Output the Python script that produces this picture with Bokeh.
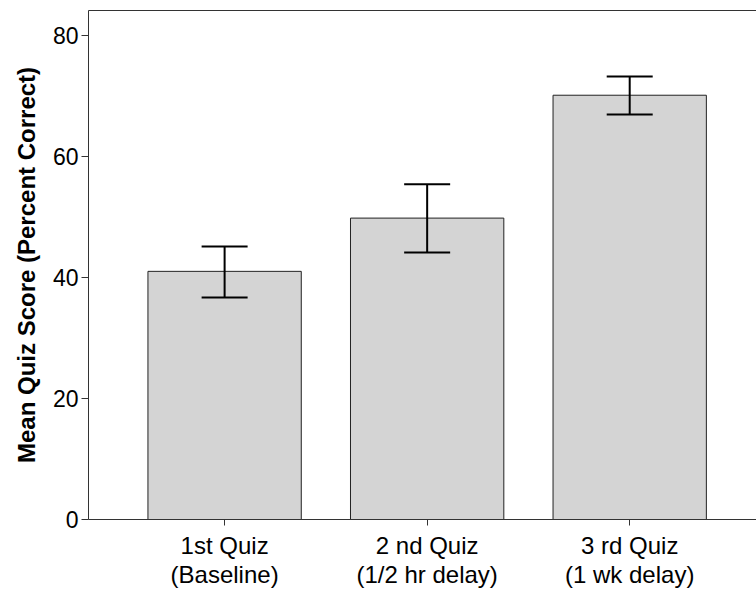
from bokeh.plotting import figure
from bokeh.models import ColumnDataSource, Whisker, TeeHead, Range1d, FixedTicker, LinearAxis
from bokeh.embed import file_html
from bokeh.resources import INLINE

categories = ["1st Quiz\n(Baseline)", "2 nd Quiz\n(1/2 hr delay)", "3 rd Quiz\n(1 wk delay)"]
positions = [1, 2, 3]
means = [41.0, 49.8, 70.1]
upper = [45.1, 55.4, 73.2]
lower = [36.7, 44.1, 66.9]
y_ticks = [0, 20, 40, 60, 80]

src = ColumnDataSource(dict(x=positions, top=means, upper=upper, lower=lower))

p = figure(width=756, height=595, output_backend="svg", toolbar_location=None,
           x_range=Range1d(0.328, 3.626), y_range=Range1d(0, 84.1),
           min_border_left=88, min_border_right=0, min_border_top=10, min_border_bottom=76)
p.outline_line_color = None
p.grid.visible = False
p.background_fill_color = "white"

p.vbar(x="x", top="top", bottom=0, width=0.757, source=src,
       fill_color="#d4d4d4", line_color="#222222", line_width=1)

w = Whisker(source=src, base="x", upper="upper", lower="lower",
            line_color="black", line_width=2, level="overlay",
            upper_head=TeeHead(size=46, line_color="black", line_width=2),
            lower_head=TeeHead(size=46, line_color="black", line_width=2))
p.add_layout(w)

font = "Liberation Sans"
p.xaxis.ticker = FixedTicker(ticks=positions)
p.xaxis.major_label_overrides = {pos: lab for pos, lab in zip(positions, categories)}
p.xaxis.major_label_text_font = font
p.xaxis.major_label_text_font_size = "24px"
p.xaxis.major_label_text_color = "black"
p.xaxis.major_label_text_line_height = 1.1
p.xaxis.major_label_standoff = 6
p.xaxis.minor_tick_line_color = None
p.xaxis.major_tick_in = 0
p.xaxis.major_tick_out = 6
p.xaxis.axis_line_color = "#333333"
p.xaxis.major_tick_line_color = "#333333"

p.yaxis.ticker = FixedTicker(ticks=y_ticks)
p.yaxis.major_label_text_font = font
p.yaxis.major_label_text_font_size = "23px"
p.yaxis.major_label_text_color = "black"
p.yaxis.minor_tick_line_color = None
p.yaxis.major_tick_in = 0
p.yaxis.major_tick_out = 7
p.yaxis.major_label_standoff = 3
p.yaxis.axis_line_color = "#333333"
p.yaxis.major_tick_line_color = "#333333"
p.yaxis.axis_label = "Mean Quiz Score (Percent Correct)"
p.yaxis.axis_label_text_font = font
p.yaxis.axis_label_text_font_size = "24px"
p.yaxis.axis_label_text_font_style = "bold"
p.yaxis.axis_label_text_color = "black"
p.yaxis.axis_label_standoff = 10

top_axis = LinearAxis(ticker=FixedTicker(ticks=[]), axis_line_color="#333333",
                      major_label_text_font_size="0px", major_tick_line_color=None,
                      minor_tick_line_color=None, major_label_standoff=0)
p.add_layout(top_axis, "above")

open("out.html", "w").write(file_html(p, INLINE))
